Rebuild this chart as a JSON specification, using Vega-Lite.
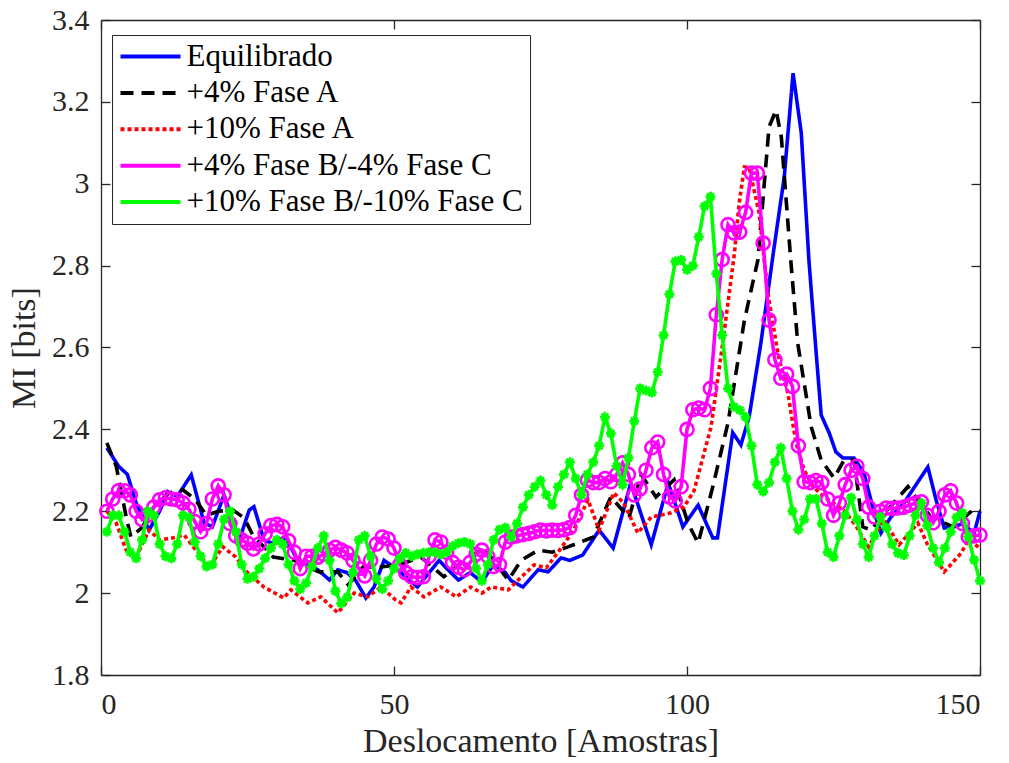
{
"$schema": "https://vega.github.io/schema/vega-lite/v6.json",
"width": 879, "height": 655,
"autosize": {"type": "none"},
"padding": {"left": 101, "top": 20, "right": 29, "bottom": 88},
"background": "white",
"data": {"values": [
{"s":"Equilibrado","x":1,"y":2.355},{"s":"Equilibrado","x":3,"y":2.31},{"s":"Equilibrado","x":4.5,"y":2.29},{"s":"Equilibrado","x":6,"y":2.22},{"s":"Equilibrado","x":8.2,"y":2.154},{"s":"Equilibrado","x":10,"y":2.2},{"s":"Equilibrado","x":11.4,"y":2.248},{"s":"Equilibrado","x":13,"y":2.236},{"s":"Equilibrado","x":15.4,"y":2.289},{"s":"Equilibrado","x":17.6,"y":2.171},{"s":"Equilibrado","x":19,"y":2.162},{"s":"Equilibrado","x":21,"y":2.24},{"s":"Equilibrado","x":23.6,"y":2.13},{"s":"Equilibrado","x":25.3,"y":2.203},{"s":"Equilibrado","x":26.1,"y":2.211},{"s":"Equilibrado","x":27.8,"y":2.13},{"s":"Equilibrado","x":29.5,"y":2.12},{"s":"Equilibrado","x":31,"y":2.135},{"s":"Equilibrado","x":32.4,"y":2.113},{"s":"Equilibrado","x":33.5,"y":2.08},{"s":"Equilibrado","x":35,"y":2.07},{"s":"Equilibrado","x":37,"y":2.057},{"s":"Equilibrado","x":39,"y":2.032},{"s":"Equilibrado","x":40.4,"y":2.057},{"s":"Equilibrado","x":42,"y":2.05},{"s":"Equilibrado","x":43.5,"y":2.03},{"s":"Equilibrado","x":45.2,"y":1.988},{"s":"Equilibrado","x":46.6,"y":2.015},{"s":"Equilibrado","x":48.3,"y":2.08},{"s":"Equilibrado","x":50.3,"y":2.06},{"s":"Equilibrado","x":52,"y":2.04},{"s":"Equilibrado","x":54,"y":2.015},{"s":"Equilibrado","x":56,"y":2.05},{"s":"Equilibrado","x":57.7,"y":2.08},{"s":"Equilibrado","x":59,"y":2.06},{"s":"Equilibrado","x":61,"y":2.032},{"s":"Equilibrado","x":63,"y":2.05},{"s":"Equilibrado","x":65,"y":2.027},{"s":"Equilibrado","x":67,"y":2.07},{"s":"Equilibrado","x":69,"y":2.05},{"s":"Equilibrado","x":70,"y":2.03},{"s":"Equilibrado","x":72,"y":2.015},{"s":"Equilibrado","x":74.6,"y":2.057},{"s":"Equilibrado","x":76.3,"y":2.052},{"s":"Equilibrado","x":78.5,"y":2.086},{"s":"Equilibrado","x":80,"y":2.08},{"s":"Equilibrado","x":82.2,"y":2.093},{"s":"Equilibrado","x":85,"y":2.154},{"s":"Equilibrado","x":87.4,"y":2.11},{"s":"Equilibrado","x":90.4,"y":2.269},{"s":"Equilibrado","x":93.9,"y":2.118},{"s":"Equilibrado","x":96.8,"y":2.269},{"s":"Equilibrado","x":99.3,"y":2.162},{"s":"Equilibrado","x":101.9,"y":2.215},{"s":"Equilibrado","x":104.4,"y":2.135},{"s":"Equilibrado","x":105.2,"y":2.135},{"s":"Equilibrado","x":107.8,"y":2.392},{"s":"Equilibrado","x":109.2,"y":2.362},{"s":"Equilibrado","x":110.6,"y":2.43},{"s":"Equilibrado","x":112.6,"y":2.61},{"s":"Equilibrado","x":114.8,"y":2.838},{"s":"Equilibrado","x":116.6,"y":3.017},{"s":"Equilibrado","x":118.1,"y":3.27},{"s":"Equilibrado","x":119.5,"y":3.124},{"s":"Equilibrado","x":120.8,"y":2.814},{"s":"Equilibrado","x":122,"y":2.594},{"s":"Equilibrado","x":122.9,"y":2.435},{"s":"Equilibrado","x":124.3,"y":2.39},{"s":"Equilibrado","x":125.4,"y":2.345},{"s":"Equilibrado","x":126.6,"y":2.33},{"s":"Equilibrado","x":128.5,"y":2.33},{"s":"Equilibrado","x":130.2,"y":2.293},{"s":"Equilibrado","x":131.7,"y":2.21},{"s":"Equilibrado","x":133.1,"y":2.147},{"s":"Equilibrado","x":134.8,"y":2.186},{"s":"Equilibrado","x":137,"y":2.22},{"s":"Equilibrado","x":139.6,"y":2.276},{"s":"Equilibrado","x":141.1,"y":2.308},{"s":"Equilibrado","x":142.5,"y":2.228},{"s":"Equilibrado","x":143.9,"y":2.159},{"s":"Equilibrado","x":145.6,"y":2.162},{"s":"Equilibrado","x":147,"y":2.17},{"s":"Equilibrado","x":149,"y":2.147},{"s":"Equilibrado","x":150,"y":2.2},
{"s":"+4% Fase A","x":1,"y":2.367},{"s":"+4% Fase A","x":2.6,"y":2.31},{"s":"+4% Fase A","x":4.3,"y":2.186},{"s":"+4% Fase A","x":5.1,"y":2.137},{"s":"+4% Fase A","x":7,"y":2.16},{"s":"+4% Fase A","x":9,"y":2.21},{"s":"+4% Fase A","x":11.6,"y":2.245},{"s":"+4% Fase A","x":14,"y":2.252},{"s":"+4% Fase A","x":16,"y":2.23},{"s":"+4% Fase A","x":18,"y":2.19},{"s":"+4% Fase A","x":20,"y":2.2},{"s":"+4% Fase A","x":22.5,"y":2.203},{"s":"+4% Fase A","x":24.4,"y":2.184},{"s":"+4% Fase A","x":25.9,"y":2.142},{"s":"+4% Fase A","x":29.4,"y":2.088},{"s":"+4% Fase A","x":33,"y":2.08},{"s":"+4% Fase A","x":37.2,"y":2.052},{"s":"+4% Fase A","x":40.4,"y":2.052},{"s":"+4% Fase A","x":42.2,"y":2.02},{"s":"+4% Fase A","x":44.7,"y":2.064},{"s":"+4% Fase A","x":47.8,"y":2.064},{"s":"+4% Fase A","x":51,"y":2.07},{"s":"+4% Fase A","x":54.6,"y":2.088},{"s":"+4% Fase A","x":58.5,"y":2.04},{"s":"+4% Fase A","x":62,"y":2.08},{"s":"+4% Fase A","x":65.4,"y":2.11},{"s":"+4% Fase A","x":69.5,"y":2.032},{"s":"+4% Fase A","x":71.7,"y":2.08},{"s":"+4% Fase A","x":74.6,"y":2.105},{"s":"+4% Fase A","x":77,"y":2.1},{"s":"+4% Fase A","x":79.7,"y":2.113},{"s":"+4% Fase A","x":84,"y":2.137},{"s":"+4% Fase A","x":87,"y":2.235},{"s":"+4% Fase A","x":90.1,"y":2.184},{"s":"+4% Fase A","x":92.2,"y":2.289},{"s":"+4% Fase A","x":94.7,"y":2.235},{"s":"+4% Fase A","x":97.8,"y":2.277},{"s":"+4% Fase A","x":100.2,"y":2.17},{"s":"+4% Fase A","x":101.9,"y":2.122},{"s":"+4% Fase A","x":104.4,"y":2.26},{"s":"+4% Fase A","x":107,"y":2.416},{"s":"+4% Fase A","x":109.8,"y":2.667},{"s":"+4% Fase A","x":112.1,"y":2.814},{"s":"+4% Fase A","x":114,"y":3.139},{"s":"+4% Fase A","x":115.2,"y":3.18},{"s":"+4% Fase A","x":116.1,"y":3.114},{"s":"+4% Fase A","x":117.7,"y":2.814},{"s":"+4% Fase A","x":118.9,"y":2.61},{"s":"+4% Fase A","x":121.2,"y":2.406},{"s":"+4% Fase A","x":122.9,"y":2.325},{"s":"+4% Fase A","x":125.1,"y":2.281},{"s":"+4% Fase A","x":126.8,"y":2.325},{"s":"+4% Fase A","x":128.5,"y":2.325},{"s":"+4% Fase A","x":130,"y":2.162},{"s":"+4% Fase A","x":131.4,"y":2.154},{"s":"+4% Fase A","x":134,"y":2.2},{"s":"+4% Fase A","x":137.7,"y":2.26},{"s":"+4% Fase A","x":139,"y":2.235},{"s":"+4% Fase A","x":141.6,"y":2.186},{"s":"+4% Fase A","x":145.4,"y":2.162},{"s":"+4% Fase A","x":148.8,"y":2.203},{"s":"+4% Fase A","x":150,"y":2.2},
{"s":"+10% Fase A","x":1,"y":2.2},{"s":"+10% Fase A","x":2.6,"y":2.171},{"s":"+10% Fase A","x":4.3,"y":2.105},{"s":"+10% Fase A","x":6,"y":2.088},{"s":"+10% Fase A","x":8.2,"y":2.154},{"s":"+10% Fase A","x":10,"y":2.13},{"s":"+10% Fase A","x":12.3,"y":2.135},{"s":"+10% Fase A","x":14.2,"y":2.142},{"s":"+10% Fase A","x":16.2,"y":2.105},{"s":"+10% Fase A","x":18.5,"y":2.064},{"s":"+10% Fase A","x":20.8,"y":2.113},{"s":"+10% Fase A","x":23,"y":2.088},{"s":"+10% Fase A","x":25,"y":2.05},{"s":"+10% Fase A","x":27.8,"y":2.015},{"s":"+10% Fase A","x":31.2,"y":1.988},{"s":"+10% Fase A","x":32.4,"y":2.008},{"s":"+10% Fase A","x":35.3,"y":1.976},{"s":"+10% Fase A","x":37.5,"y":1.991},{"s":"+10% Fase A","x":40.4,"y":1.952},{"s":"+10% Fase A","x":43.2,"y":2.0},{"s":"+10% Fase A","x":45.5,"y":1.991},{"s":"+10% Fase A","x":47.8,"y":2.015},{"s":"+10% Fase A","x":50.3,"y":1.983},{"s":"+10% Fase A","x":51.2,"y":1.976},{"s":"+10% Fase A","x":52.9,"y":2.015},{"s":"+10% Fase A","x":55.1,"y":1.991},{"s":"+10% Fase A","x":58,"y":2.015},{"s":"+10% Fase A","x":60.6,"y":1.991},{"s":"+10% Fase A","x":63.1,"y":2.015},{"s":"+10% Fase A","x":65,"y":2.0},{"s":"+10% Fase A","x":66.6,"y":2.015},{"s":"+10% Fase A","x":69.5,"y":2.008},{"s":"+10% Fase A","x":71.2,"y":2.032},{"s":"+10% Fase A","x":73.9,"y":2.069},{"s":"+10% Fase A","x":76,"y":2.062},{"s":"+10% Fase A","x":78,"y":2.1},{"s":"+10% Fase A","x":80,"y":2.14},{"s":"+10% Fase A","x":81.1,"y":2.167},{"s":"+10% Fase A","x":83.1,"y":2.228},{"s":"+10% Fase A","x":85,"y":2.154},{"s":"+10% Fase A","x":87.5,"y":2.245},{"s":"+10% Fase A","x":89.2,"y":2.22},{"s":"+10% Fase A","x":91.6,"y":2.147},{"s":"+10% Fase A","x":93.9,"y":2.186},{"s":"+10% Fase A","x":97.3,"y":2.196},{"s":"+10% Fase A","x":99.5,"y":2.211},{"s":"+10% Fase A","x":101.2,"y":2.25},{"s":"+10% Fase A","x":104.1,"y":2.406},{"s":"+10% Fase A","x":106.1,"y":2.611},{"s":"+10% Fase A","x":108.1,"y":2.831},{"s":"+10% Fase A","x":108.9,"y":2.953},{"s":"+10% Fase A","x":109.8,"y":3.041},{"s":"+10% Fase A","x":110.6,"y":3.04},{"s":"+10% Fase A","x":112.3,"y":2.929},{"s":"+10% Fase A","x":113.8,"y":2.733},{"s":"+10% Fase A","x":115.5,"y":2.587},{"s":"+10% Fase A","x":117.2,"y":2.489},{"s":"+10% Fase A","x":118.6,"y":2.367},{"s":"+10% Fase A","x":120,"y":2.3},{"s":"+10% Fase A","x":121.5,"y":2.26},{"s":"+10% Fase A","x":123.4,"y":2.235},{"s":"+10% Fase A","x":125,"y":2.22},{"s":"+10% Fase A","x":127,"y":2.2},{"s":"+10% Fase A","x":129,"y":2.16},{"s":"+10% Fase A","x":131,"y":2.113},{"s":"+10% Fase A","x":133.6,"y":2.179},{"s":"+10% Fase A","x":136.2,"y":2.118},{"s":"+10% Fase A","x":139.4,"y":2.171},{"s":"+10% Fase A","x":141,"y":2.12},{"s":"+10% Fase A","x":143.9,"y":2.052},{"s":"+10% Fase A","x":146.8,"y":2.098},{"s":"+10% Fase A","x":148,"y":2.13},{"s":"+10% Fase A","x":150,"y":2.11},
{"s":"+4% Fase B/-4% Fase C","x":1,"y":2.2},{"s":"+4% Fase B/-4% Fase C","x":2,"y":2.23},{"s":"+4% Fase B/-4% Fase C","x":3,"y":2.25},{"s":"+4% Fase B/-4% Fase C","x":4,"y":2.25},{"s":"+4% Fase B/-4% Fase C","x":5,"y":2.24},{"s":"+4% Fase B/-4% Fase C","x":6,"y":2.2},{"s":"+4% Fase B/-4% Fase C","x":7,"y":2.18},{"s":"+4% Fase B/-4% Fase C","x":8,"y":2.19},{"s":"+4% Fase B/-4% Fase C","x":9,"y":2.21},{"s":"+4% Fase B/-4% Fase C","x":10,"y":2.228},{"s":"+4% Fase B/-4% Fase C","x":11,"y":2.233},{"s":"+4% Fase B/-4% Fase C","x":12,"y":2.23},{"s":"+4% Fase B/-4% Fase C","x":13,"y":2.228},{"s":"+4% Fase B/-4% Fase C","x":14,"y":2.22},{"s":"+4% Fase B/-4% Fase C","x":15,"y":2.205},{"s":"+4% Fase B/-4% Fase C","x":16,"y":2.175},{"s":"+4% Fase B/-4% Fase C","x":17,"y":2.15},{"s":"+4% Fase B/-4% Fase C","x":18,"y":2.17},{"s":"+4% Fase B/-4% Fase C","x":19,"y":2.23},{"s":"+4% Fase B/-4% Fase C","x":20,"y":2.262},{"s":"+4% Fase B/-4% Fase C","x":21,"y":2.24},{"s":"+4% Fase B/-4% Fase C","x":22,"y":2.17},{"s":"+4% Fase B/-4% Fase C","x":23,"y":2.14},{"s":"+4% Fase B/-4% Fase C","x":24,"y":2.13},{"s":"+4% Fase B/-4% Fase C","x":25,"y":2.122},{"s":"+4% Fase B/-4% Fase C","x":26,"y":2.108},{"s":"+4% Fase B/-4% Fase C","x":27,"y":2.12},{"s":"+4% Fase B/-4% Fase C","x":28,"y":2.145},{"s":"+4% Fase B/-4% Fase C","x":29,"y":2.165},{"s":"+4% Fase B/-4% Fase C","x":30,"y":2.168},{"s":"+4% Fase B/-4% Fase C","x":31,"y":2.162},{"s":"+4% Fase B/-4% Fase C","x":32,"y":2.128},{"s":"+4% Fase B/-4% Fase C","x":33,"y":2.1},{"s":"+4% Fase B/-4% Fase C","x":34,"y":2.06},{"s":"+4% Fase B/-4% Fase C","x":35,"y":2.09},{"s":"+4% Fase B/-4% Fase C","x":36,"y":2.09},{"s":"+4% Fase B/-4% Fase C","x":37,"y":2.088},{"s":"+4% Fase B/-4% Fase C","x":38,"y":2.095},{"s":"+4% Fase B/-4% Fase C","x":39,"y":2.105},{"s":"+4% Fase B/-4% Fase C","x":40,"y":2.112},{"s":"+4% Fase B/-4% Fase C","x":41,"y":2.105},{"s":"+4% Fase B/-4% Fase C","x":42,"y":2.098},{"s":"+4% Fase B/-4% Fase C","x":43,"y":2.08},{"s":"+4% Fase B/-4% Fase C","x":44,"y":2.06},{"s":"+4% Fase B/-4% Fase C","x":45,"y":2.042},{"s":"+4% Fase B/-4% Fase C","x":46,"y":2.08},{"s":"+4% Fase B/-4% Fase C","x":47,"y":2.12},{"s":"+4% Fase B/-4% Fase C","x":48,"y":2.137},{"s":"+4% Fase B/-4% Fase C","x":49,"y":2.132},{"s":"+4% Fase B/-4% Fase C","x":50,"y":2.11},{"s":"+4% Fase B/-4% Fase C","x":51,"y":2.07},{"s":"+4% Fase B/-4% Fase C","x":52,"y":2.05},{"s":"+4% Fase B/-4% Fase C","x":53,"y":2.04},{"s":"+4% Fase B/-4% Fase C","x":54,"y":2.038},{"s":"+4% Fase B/-4% Fase C","x":55,"y":2.04},{"s":"+4% Fase B/-4% Fase C","x":56,"y":2.09},{"s":"+4% Fase B/-4% Fase C","x":57,"y":2.13},{"s":"+4% Fase B/-4% Fase C","x":58,"y":2.125},{"s":"+4% Fase B/-4% Fase C","x":59,"y":2.1},{"s":"+4% Fase B/-4% Fase C","x":60,"y":2.075},{"s":"+4% Fase B/-4% Fase C","x":61,"y":2.063},{"s":"+4% Fase B/-4% Fase C","x":62,"y":2.057},{"s":"+4% Fase B/-4% Fase C","x":63,"y":2.075},{"s":"+4% Fase B/-4% Fase C","x":64,"y":2.095},{"s":"+4% Fase B/-4% Fase C","x":65,"y":2.105},{"s":"+4% Fase B/-4% Fase C","x":66,"y":2.09},{"s":"+4% Fase B/-4% Fase C","x":67,"y":2.065},{"s":"+4% Fase B/-4% Fase C","x":68,"y":2.07},{"s":"+4% Fase B/-4% Fase C","x":69,"y":2.125},{"s":"+4% Fase B/-4% Fase C","x":70,"y":2.137},{"s":"+4% Fase B/-4% Fase C","x":71,"y":2.14},{"s":"+4% Fase B/-4% Fase C","x":72,"y":2.143},{"s":"+4% Fase B/-4% Fase C","x":73,"y":2.146},{"s":"+4% Fase B/-4% Fase C","x":74,"y":2.15},{"s":"+4% Fase B/-4% Fase C","x":75,"y":2.154},{"s":"+4% Fase B/-4% Fase C","x":76,"y":2.152},{"s":"+4% Fase B/-4% Fase C","x":77,"y":2.154},{"s":"+4% Fase B/-4% Fase C","x":78,"y":2.153},{"s":"+4% Fase B/-4% Fase C","x":79,"y":2.155},{"s":"+4% Fase B/-4% Fase C","x":80,"y":2.16},{"s":"+4% Fase B/-4% Fase C","x":81,"y":2.19},{"s":"+4% Fase B/-4% Fase C","x":82,"y":2.24},{"s":"+4% Fase B/-4% Fase C","x":83,"y":2.276},{"s":"+4% Fase B/-4% Fase C","x":84,"y":2.27},{"s":"+4% Fase B/-4% Fase C","x":85,"y":2.27},{"s":"+4% Fase B/-4% Fase C","x":86,"y":2.28},{"s":"+4% Fase B/-4% Fase C","x":87,"y":2.272},{"s":"+4% Fase B/-4% Fase C","x":88,"y":2.29},{"s":"+4% Fase B/-4% Fase C","x":89,"y":2.318},{"s":"+4% Fase B/-4% Fase C","x":90,"y":2.29},{"s":"+4% Fase B/-4% Fase C","x":91,"y":2.24},{"s":"+4% Fase B/-4% Fase C","x":92,"y":2.255},{"s":"+4% Fase B/-4% Fase C","x":93,"y":2.3},{"s":"+4% Fase B/-4% Fase C","x":94,"y":2.355},{"s":"+4% Fase B/-4% Fase C","x":95,"y":2.369},{"s":"+4% Fase B/-4% Fase C","x":96,"y":2.29},{"s":"+4% Fase B/-4% Fase C","x":97,"y":2.235},{"s":"+4% Fase B/-4% Fase C","x":98,"y":2.225},{"s":"+4% Fase B/-4% Fase C","x":99,"y":2.26},{"s":"+4% Fase B/-4% Fase C","x":100,"y":2.4},{"s":"+4% Fase B/-4% Fase C","x":101,"y":2.448},{"s":"+4% Fase B/-4% Fase C","x":102,"y":2.452},{"s":"+4% Fase B/-4% Fase C","x":103,"y":2.448},{"s":"+4% Fase B/-4% Fase C","x":104,"y":2.5},{"s":"+4% Fase B/-4% Fase C","x":105,"y":2.68},{"s":"+4% Fase B/-4% Fase C","x":106,"y":2.815},{"s":"+4% Fase B/-4% Fase C","x":107,"y":2.9},{"s":"+4% Fase B/-4% Fase C","x":108,"y":2.88},{"s":"+4% Fase B/-4% Fase C","x":109,"y":2.882},{"s":"+4% Fase B/-4% Fase C","x":110,"y":2.93},{"s":"+4% Fase B/-4% Fase C","x":111,"y":3.026},{"s":"+4% Fase B/-4% Fase C","x":112,"y":3.026},{"s":"+4% Fase B/-4% Fase C","x":113,"y":2.855},{"s":"+4% Fase B/-4% Fase C","x":114,"y":2.667},{"s":"+4% Fase B/-4% Fase C","x":115,"y":2.57},{"s":"+4% Fase B/-4% Fase C","x":116,"y":2.525},{"s":"+4% Fase B/-4% Fase C","x":117,"y":2.535},{"s":"+4% Fase B/-4% Fase C","x":118,"y":2.505},{"s":"+4% Fase B/-4% Fase C","x":119,"y":2.36},{"s":"+4% Fase B/-4% Fase C","x":120,"y":2.272},{"s":"+4% Fase B/-4% Fase C","x":121,"y":2.27},{"s":"+4% Fase B/-4% Fase C","x":122,"y":2.275},{"s":"+4% Fase B/-4% Fase C","x":123,"y":2.27},{"s":"+4% Fase B/-4% Fase C","x":124,"y":2.23},{"s":"+4% Fase B/-4% Fase C","x":125,"y":2.19},{"s":"+4% Fase B/-4% Fase C","x":126,"y":2.22},{"s":"+4% Fase B/-4% Fase C","x":127,"y":2.265},{"s":"+4% Fase B/-4% Fase C","x":128,"y":2.3},{"s":"+4% Fase B/-4% Fase C","x":129,"y":2.31},{"s":"+4% Fase B/-4% Fase C","x":130,"y":2.28},{"s":"+4% Fase B/-4% Fase C","x":131,"y":2.21},{"s":"+4% Fase B/-4% Fase C","x":132,"y":2.186},{"s":"+4% Fase B/-4% Fase C","x":133,"y":2.2},{"s":"+4% Fase B/-4% Fase C","x":134,"y":2.208},{"s":"+4% Fase B/-4% Fase C","x":135,"y":2.207},{"s":"+4% Fase B/-4% Fase C","x":136,"y":2.208},{"s":"+4% Fase B/-4% Fase C","x":137,"y":2.21},{"s":"+4% Fase B/-4% Fase C","x":138,"y":2.215},{"s":"+4% Fase B/-4% Fase C","x":139,"y":2.22},{"s":"+4% Fase B/-4% Fase C","x":140,"y":2.223},{"s":"+4% Fase B/-4% Fase C","x":141,"y":2.19},{"s":"+4% Fase B/-4% Fase C","x":142,"y":2.172},{"s":"+4% Fase B/-4% Fase C","x":143,"y":2.2},{"s":"+4% Fase B/-4% Fase C","x":144,"y":2.24},{"s":"+4% Fase B/-4% Fase C","x":145,"y":2.25},{"s":"+4% Fase B/-4% Fase C","x":146,"y":2.22},{"s":"+4% Fase B/-4% Fase C","x":147,"y":2.17},{"s":"+4% Fase B/-4% Fase C","x":148,"y":2.137},{"s":"+4% Fase B/-4% Fase C","x":149,"y":2.14},{"s":"+4% Fase B/-4% Fase C","x":150,"y":2.142},
{"s":"+10% Fase B/-10% Fase C","x":1,"y":2.15},{"s":"+10% Fase B/-10% Fase C","x":2,"y":2.19},{"s":"+10% Fase B/-10% Fase C","x":3,"y":2.19},{"s":"+10% Fase B/-10% Fase C","x":4,"y":2.15},{"s":"+10% Fase B/-10% Fase C","x":5,"y":2.1},{"s":"+10% Fase B/-10% Fase C","x":6,"y":2.085},{"s":"+10% Fase B/-10% Fase C","x":7,"y":2.13},{"s":"+10% Fase B/-10% Fase C","x":8,"y":2.2},{"s":"+10% Fase B/-10% Fase C","x":9,"y":2.19},{"s":"+10% Fase B/-10% Fase C","x":10,"y":2.12},{"s":"+10% Fase B/-10% Fase C","x":11,"y":2.09},{"s":"+10% Fase B/-10% Fase C","x":12,"y":2.085},{"s":"+10% Fase B/-10% Fase C","x":13,"y":2.12},{"s":"+10% Fase B/-10% Fase C","x":14,"y":2.19},{"s":"+10% Fase B/-10% Fase C","x":15,"y":2.185},{"s":"+10% Fase B/-10% Fase C","x":16,"y":2.125},{"s":"+10% Fase B/-10% Fase C","x":17,"y":2.09},{"s":"+10% Fase B/-10% Fase C","x":18,"y":2.065},{"s":"+10% Fase B/-10% Fase C","x":19,"y":2.07},{"s":"+10% Fase B/-10% Fase C","x":20,"y":2.12},{"s":"+10% Fase B/-10% Fase C","x":21,"y":2.18},{"s":"+10% Fase B/-10% Fase C","x":22,"y":2.2},{"s":"+10% Fase B/-10% Fase C","x":23,"y":2.15},{"s":"+10% Fase B/-10% Fase C","x":24,"y":2.07},{"s":"+10% Fase B/-10% Fase C","x":25,"y":2.035},{"s":"+10% Fase B/-10% Fase C","x":26,"y":2.04},{"s":"+10% Fase B/-10% Fase C","x":27,"y":2.06},{"s":"+10% Fase B/-10% Fase C","x":28,"y":2.085},{"s":"+10% Fase B/-10% Fase C","x":29,"y":2.11},{"s":"+10% Fase B/-10% Fase C","x":30,"y":2.13},{"s":"+10% Fase B/-10% Fase C","x":31,"y":2.12},{"s":"+10% Fase B/-10% Fase C","x":32,"y":2.07},{"s":"+10% Fase B/-10% Fase C","x":33,"y":2.03},{"s":"+10% Fase B/-10% Fase C","x":34,"y":2.01},{"s":"+10% Fase B/-10% Fase C","x":35,"y":2.025},{"s":"+10% Fase B/-10% Fase C","x":36,"y":2.065},{"s":"+10% Fase B/-10% Fase C","x":37,"y":2.11},{"s":"+10% Fase B/-10% Fase C","x":38,"y":2.14},{"s":"+10% Fase B/-10% Fase C","x":39,"y":2.08},{"s":"+10% Fase B/-10% Fase C","x":40,"y":2.005},{"s":"+10% Fase B/-10% Fase C","x":41,"y":1.975},{"s":"+10% Fase B/-10% Fase C","x":42,"y":1.99},{"s":"+10% Fase B/-10% Fase C","x":43,"y":2.05},{"s":"+10% Fase B/-10% Fase C","x":44,"y":2.13},{"s":"+10% Fase B/-10% Fase C","x":45,"y":2.14},{"s":"+10% Fase B/-10% Fase C","x":46,"y":2.09},{"s":"+10% Fase B/-10% Fase C","x":47,"y":2.035},{"s":"+10% Fase B/-10% Fase C","x":48,"y":2.01},{"s":"+10% Fase B/-10% Fase C","x":49,"y":2.03},{"s":"+10% Fase B/-10% Fase C","x":50,"y":2.06},{"s":"+10% Fase B/-10% Fase C","x":51,"y":2.085},{"s":"+10% Fase B/-10% Fase C","x":52,"y":2.098},{"s":"+10% Fase B/-10% Fase C","x":53,"y":2.09},{"s":"+10% Fase B/-10% Fase C","x":54,"y":2.095},{"s":"+10% Fase B/-10% Fase C","x":55,"y":2.098},{"s":"+10% Fase B/-10% Fase C","x":56,"y":2.1},{"s":"+10% Fase B/-10% Fase C","x":57,"y":2.1},{"s":"+10% Fase B/-10% Fase C","x":58,"y":2.095},{"s":"+10% Fase B/-10% Fase C","x":59,"y":2.1},{"s":"+10% Fase B/-10% Fase C","x":60,"y":2.115},{"s":"+10% Fase B/-10% Fase C","x":61,"y":2.122},{"s":"+10% Fase B/-10% Fase C","x":62,"y":2.125},{"s":"+10% Fase B/-10% Fase C","x":63,"y":2.12},{"s":"+10% Fase B/-10% Fase C","x":64,"y":2.06},{"s":"+10% Fase B/-10% Fase C","x":65,"y":2.03},{"s":"+10% Fase B/-10% Fase C","x":66,"y":2.07},{"s":"+10% Fase B/-10% Fase C","x":67,"y":2.13},{"s":"+10% Fase B/-10% Fase C","x":68,"y":2.155},{"s":"+10% Fase B/-10% Fase C","x":69,"y":2.16},{"s":"+10% Fase B/-10% Fase C","x":70,"y":2.137},{"s":"+10% Fase B/-10% Fase C","x":71,"y":2.17},{"s":"+10% Fase B/-10% Fase C","x":72,"y":2.21},{"s":"+10% Fase B/-10% Fase C","x":73,"y":2.24},{"s":"+10% Fase B/-10% Fase C","x":74,"y":2.26},{"s":"+10% Fase B/-10% Fase C","x":75,"y":2.275},{"s":"+10% Fase B/-10% Fase C","x":76,"y":2.24},{"s":"+10% Fase B/-10% Fase C","x":77,"y":2.215},{"s":"+10% Fase B/-10% Fase C","x":78,"y":2.26},{"s":"+10% Fase B/-10% Fase C","x":79,"y":2.29},{"s":"+10% Fase B/-10% Fase C","x":80,"y":2.32},{"s":"+10% Fase B/-10% Fase C","x":81,"y":2.28},{"s":"+10% Fase B/-10% Fase C","x":82,"y":2.24},{"s":"+10% Fase B/-10% Fase C","x":83,"y":2.29},{"s":"+10% Fase B/-10% Fase C","x":84,"y":2.32},{"s":"+10% Fase B/-10% Fase C","x":85,"y":2.36},{"s":"+10% Fase B/-10% Fase C","x":86,"y":2.43},{"s":"+10% Fase B/-10% Fase C","x":87,"y":2.39},{"s":"+10% Fase B/-10% Fase C","x":88,"y":2.31},{"s":"+10% Fase B/-10% Fase C","x":89,"y":2.265},{"s":"+10% Fase B/-10% Fase C","x":90,"y":2.33},{"s":"+10% Fase B/-10% Fase C","x":91,"y":2.42},{"s":"+10% Fase B/-10% Fase C","x":92,"y":2.5},{"s":"+10% Fase B/-10% Fase C","x":93,"y":2.495},{"s":"+10% Fase B/-10% Fase C","x":94,"y":2.49},{"s":"+10% Fase B/-10% Fase C","x":95,"y":2.54},{"s":"+10% Fase B/-10% Fase C","x":96,"y":2.63},{"s":"+10% Fase B/-10% Fase C","x":97,"y":2.73},{"s":"+10% Fase B/-10% Fase C","x":98,"y":2.81},{"s":"+10% Fase B/-10% Fase C","x":99,"y":2.814},{"s":"+10% Fase B/-10% Fase C","x":100,"y":2.79},{"s":"+10% Fase B/-10% Fase C","x":101,"y":2.8},{"s":"+10% Fase B/-10% Fase C","x":102,"y":2.87},{"s":"+10% Fase B/-10% Fase C","x":103,"y":2.945},{"s":"+10% Fase B/-10% Fase C","x":104,"y":2.968},{"s":"+10% Fase B/-10% Fase C","x":105,"y":2.78},{"s":"+10% Fase B/-10% Fase C","x":106,"y":2.63},{"s":"+10% Fase B/-10% Fase C","x":107,"y":2.5},{"s":"+10% Fase B/-10% Fase C","x":108,"y":2.455},{"s":"+10% Fase B/-10% Fase C","x":109,"y":2.447},{"s":"+10% Fase B/-10% Fase C","x":110,"y":2.43},{"s":"+10% Fase B/-10% Fase C","x":111,"y":2.36},{"s":"+10% Fase B/-10% Fase C","x":112,"y":2.265},{"s":"+10% Fase B/-10% Fase C","x":113,"y":2.248},{"s":"+10% Fase B/-10% Fase C","x":114,"y":2.27},{"s":"+10% Fase B/-10% Fase C","x":115,"y":2.32},{"s":"+10% Fase B/-10% Fase C","x":116,"y":2.355},{"s":"+10% Fase B/-10% Fase C","x":117,"y":2.28},{"s":"+10% Fase B/-10% Fase C","x":118,"y":2.2},{"s":"+10% Fase B/-10% Fase C","x":119,"y":2.155},{"s":"+10% Fase B/-10% Fase C","x":120,"y":2.18},{"s":"+10% Fase B/-10% Fase C","x":121,"y":2.23},{"s":"+10% Fase B/-10% Fase C","x":122,"y":2.23},{"s":"+10% Fase B/-10% Fase C","x":123,"y":2.17},{"s":"+10% Fase B/-10% Fase C","x":124,"y":2.1},{"s":"+10% Fase B/-10% Fase C","x":125,"y":2.088},{"s":"+10% Fase B/-10% Fase C","x":126,"y":2.14},{"s":"+10% Fase B/-10% Fase C","x":127,"y":2.19},{"s":"+10% Fase B/-10% Fase C","x":128,"y":2.233},{"s":"+10% Fase B/-10% Fase C","x":129,"y":2.18},{"s":"+10% Fase B/-10% Fase C","x":130,"y":2.12},{"s":"+10% Fase B/-10% Fase C","x":131,"y":2.088},{"s":"+10% Fase B/-10% Fase C","x":132,"y":2.14},{"s":"+10% Fase B/-10% Fase C","x":133,"y":2.186},{"s":"+10% Fase B/-10% Fase C","x":134,"y":2.16},{"s":"+10% Fase B/-10% Fase C","x":135,"y":2.12},{"s":"+10% Fase B/-10% Fase C","x":136,"y":2.098},{"s":"+10% Fase B/-10% Fase C","x":137,"y":2.093},{"s":"+10% Fase B/-10% Fase C","x":138,"y":2.14},{"s":"+10% Fase B/-10% Fase C","x":139,"y":2.19},{"s":"+10% Fase B/-10% Fase C","x":140,"y":2.22},{"s":"+10% Fase B/-10% Fase C","x":141,"y":2.165},{"s":"+10% Fase B/-10% Fase C","x":142,"y":2.11},{"s":"+10% Fase B/-10% Fase C","x":143,"y":2.075},{"s":"+10% Fase B/-10% Fase C","x":144,"y":2.11},{"s":"+10% Fase B/-10% Fase C","x":145,"y":2.15},{"s":"+10% Fase B/-10% Fase C","x":146,"y":2.185},{"s":"+10% Fase B/-10% Fase C","x":147,"y":2.196},{"s":"+10% Fase B/-10% Fase C","x":148,"y":2.137},{"s":"+10% Fase B/-10% Fase C","x":149,"y":2.081},{"s":"+10% Fase B/-10% Fase C","x":150,"y":2.03}
]},
"config": {
  "font": "Liberation Serif",
  "view": {"stroke": null},
  "axis": {"grid": false, "domainColor": "#262626", "tickColor": "#262626", "labelColor": "#262626", "titleColor": "#262626", "labelFont": "Liberation Serif", "titleFont": "Liberation Serif", "labelFontSize": 30, "titleFontSize": 34, "titleFontWeight": "normal", "tickSize": -9, "domainWidth": 1.3, "tickWidth": 1.3},
  "legend": {"strokeColor": "#262626", "fillColor": "white", "padding": 6.5, "labelFont": "Liberation Serif", "labelFontSize": 31, "labelColor": "#000000", "labelLimit": 600, "symbolType": "stroke", "symbolSize": 3600, "symbolStrokeWidth": 4, "clipHeight": 30, "rowPadding": 5.4, "labelOffset": 4, "cornerRadius": 0}
},
"encoding": {
  "x": {"field": "x", "type": "quantitative", "scale": {"domain": [0, 150], "nice": false}},
  "y": {"field": "y", "type": "quantitative", "scale": {"domain": [1.8, 3.4], "nice": false, "zero": false}}
},
"layer": [
  {"transform": [{"filter": {"not": {"field": "s", "equal": "+10% Fase B/-10% Fase C"}}}],
   "mark": {"type": "line", "strokeWidth": 3.6},
   "encoding": {
     "x": {"field": "x", "type": "quantitative", "axis": {"orient": "bottom", "values": [0, 50, 100, 150], "title": "Deslocamento [Amostras]", "labelFont": "Liberation Serif", "titleFont": "Liberation Serif", "labelPadding": 23, "titlePadding": 5}},
     "y": {"field": "y", "type": "quantitative", "axis": {"orient": "left", "values": [1.8, 2, 2.2, 2.4, 2.6, 2.8, 3, 3.2, 3.4], "format": "~g", "title": "MI [bits]", "labelFont": "Liberation Serif", "titleFont": "Liberation Serif", "labelPadding": 21, "titlePadding": 10}},
     "color": {"field": "s", "type": "nominal", "scale": {"domain": ["Equilibrado", "+4% Fase A", "+10% Fase A", "+4% Fase B/-4% Fase C", "+10% Fase B/-10% Fase C"], "range": ["#0000ff", "#000000", "#ff0000", "#ff00ff", "#00ff00"]}, "legend": {"title": null, "orient": "none", "legendX": 11, "legendY": 15, "labelFont": "Liberation Serif"}},
     "strokeDash": {"field": "s", "type": "nominal", "scale": {"domain": ["Equilibrado", "+4% Fase A", "+10% Fase A", "+4% Fase B/-4% Fase C", "+10% Fase B/-10% Fase C"], "range": [[1, 0], [13, 8], [4, 3], [1, 0], [1, 0]]}, "legend": {"title": null, "orient": "none", "legendX": 11, "legendY": 15, "labelFont": "Liberation Serif"}}
   }},
  {"transform": [{"filter": {"field": "s", "equal": "+4% Fase B/-4% Fase C"}}],
   "mark": {"type": "point", "shape": "circle", "filled": false, "color": "#ff00ff", "size": 170, "strokeWidth": 2.6, "opacity": 1},
   "encoding": {
     "x": {"field": "x", "type": "quantitative", "axis": null},
     "y": {"field": "y", "type": "quantitative", "axis": null}
   }},
  {"transform": [{"filter": {"field": "s", "equal": "+10% Fase B/-10% Fase C"}}],
   "mark": {"type": "line", "strokeWidth": 3.6},
   "encoding": {
     "x": {"field": "x", "type": "quantitative", "axis": null},
     "y": {"field": "y", "type": "quantitative", "axis": null},
     "color": {"field": "s", "type": "nominal", "legend": {"title": null, "orient": "none", "legendX": 11, "legendY": 15, "labelFont": "Liberation Serif"}},
     "strokeDash": {"field": "s", "type": "nominal", "legend": {"title": null, "orient": "none", "legendX": 11, "legendY": 15, "labelFont": "Liberation Serif"}}
   }},
  {"transform": [{"filter": {"field": "s", "equal": "+10% Fase B/-10% Fase C"}}],
   "mark": {"type": "point", "shape": "M-1,0L1,0M0,-1L0,1M-0.7,-0.7L0.7,0.7M-0.7,0.7L0.7,-0.7", "filled": false, "color": "#00ff00", "size": 100, "strokeWidth": 2.6, "opacity": 1},
   "encoding": {
     "x": {"field": "x", "type": "quantitative", "axis": {"orient": "top", "values": [0, 50, 100, 150], "labels": false, "title": null}},
     "y": {"field": "y", "type": "quantitative", "axis": {"orient": "right", "values": [1.8, 2, 2.2, 2.4, 2.6, 2.8, 3, 3.2, 3.4], "labels": false, "title": null}}
   }}
],
"resolve": {"axis": {"x": "independent", "y": "independent"}}
}
